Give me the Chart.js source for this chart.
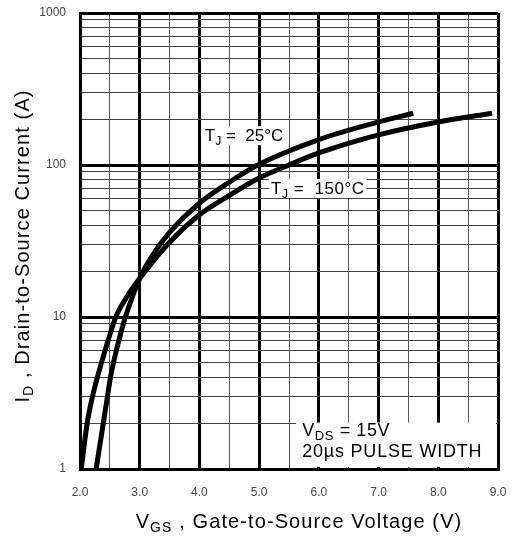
<!DOCTYPE html>
<html>
<head>
<meta charset="utf-8">
<script src="https://cdn.jsdelivr.net/npm/chart.js@4"></script>
<style>
  body { margin: 0; background: #fff; }
  #wrap { width: 513px; height: 537px; }
</style>
</head>
<body>
<div id="wrap"><canvas id="chart" width="513" height="537"></canvas></div>
<script>
// TJ = 25°C curve
const vgs25 = [2.27, 2.39, 2.46, 2.51, 2.56, 2.65, 2.76, 2.86, 3.0, 3.2, 3.5, 4.0, 4.5, 5.0, 6.0, 7.0, 7.58];
const id25 = [1, 2, 3, 4, 5, 7, 10, 13, 18, 25, 36, 56, 77, 101, 147, 192, 219];

// TJ = 150°C curve
const vgs150 = [2.02, 2.12, 2.21, 2.29, 2.36, 2.47, 2.6, 2.78, 2.98, 3.5, 4.0, 4.5, 5.0, 5.5, 6.0, 7.0, 8.0, 8.9];
const id150 = [1, 2, 3, 4, 5, 7, 10, 13.5, 17.5, 31, 47, 63, 82, 100, 120, 158, 192, 219];

// axis ticks
const xTicks = [2.0, 2.5, 3.0, 3.5, 4.0, 4.5, 5.0, 5.5, 6.0, 6.5, 7.0, 7.5, 8.0, 8.5, 9.0];
const yDecades = [1, 10, 100, 1000];
const yMinor = [2, 3, 4, 5, 6, 7, 8, 9];

const yTicks = [];
yDecades.forEach((d, i) => {
  yTicks.push(d);
  if (i < yDecades.length - 1) yMinor.forEach(m => yTicks.push(d * m));
});

const SANS = '"Liberation Sans", Arial, sans-serif';

const toPts = (xs, ys) => xs.map((x, i) => ({ x: x, y: ys[i] }));
const isDecade = v => yDecades.includes(v);

// text with subscripts, parts: [text, isSub]
function richText(ctx, parts, x, y, size, spacing) {
  let cx = x;
  parts.forEach(([t, sub]) => {
    const s = sub ? Math.round(size * 0.72) : size;
    ctx.font = s + 'px ' + SANS;
    ctx.letterSpacing = (spacing || 0) + 'px';
    ctx.fillText(t, cx, sub ? y + size * 0.22 : y);
    cx += ctx.measureText(t).width;
  });
  ctx.letterSpacing = '0px';
  return cx - x;
}
function richWidth(ctx, parts, size, spacing) {
  let w = 0;
  parts.forEach(([t, sub]) => {
    const s = sub ? Math.round(size * 0.72) : size;
    ctx.font = s + 'px ' + SANS;
    ctx.letterSpacing = (spacing || 0) + 'px';
    w += ctx.measureText(t).width;
  });
  ctx.letterSpacing = '0px';
  return w;
}
function boxedLabel(ctx, parts, x, y, size, spacing) {
  const w = richWidth(ctx, parts, size, spacing);
  ctx.fillStyle = '#fff';
  ctx.fillRect(x - 2, y - 9, w + 4, 19);
  ctx.fillStyle = '#000';
  richText(ctx, parts, x, y + 6, size, spacing);
}

const labelsPlugin = {
  id: 'labels',
  afterDraw(chart) {
    const ctx = chart.ctx;
    const xs = chart.scales.x, ys = chart.scales.y;
    const area = chart.chartArea;
    ctx.save();
    ctx.fillStyle = '#000';
    ctx.textBaseline = 'alphabetic';
    ctx.textAlign = 'left';

    // curve labels
    boxedLabel(ctx, [['T', false], ['J', true], [' =  25°C', false]],
      xs.getPixelForValue(4.09), ys.getPixelForValue(157), 17, 0);
    boxedLabel(ctx, [['T', false], ['J', true], [' =  150°C', false]],
      xs.getPixelForValue(5.2), ys.getPixelForValue(70.6), 17, 0.5);

    // test condition box
    const bx = xs.getPixelForValue(5.62), by = ys.getPixelForValue(2.02);
    ctx.fillStyle = '#fff';
    ctx.fillRect(bx, by, area.right - 2 - bx, area.bottom - 2 - by);
    ctx.fillStyle = '#000';
    richText(ctx, [['V', false], ['DS', true], [' = 15V', false]], bx + 6, by + 13, 18, 0.6);
    richText(ctx, [['20µs PULSE WIDTH', false]], bx + 6, by + 34, 18, 0.8);

    // axis titles
    const xt = [['V', false], ['GS', true], [' , Gate-to-Source Voltage (V)', false]];
    let w = richWidth(ctx, xt, 20, 1.1);
    richText(ctx, xt, 299 - w / 2, 528, 20, 1.1);

    const yt = [['I', false], ['D', true], [' , Drain-to-Source Current (A)', false]];
    w = richWidth(ctx, yt, 20, 1.1);
    ctx.translate(29, 246);
    ctx.rotate(-Math.PI / 2);
    richText(ctx, yt, -w / 2, 0, 20, 1.1);
    ctx.restore();
  }
};

const lineStyle = {
  borderColor: '#000',
  borderWidth: 5,
  pointRadius: 0,
  fill: false,
  cubicInterpolationMode: 'monotone',
  borderCapStyle: 'butt'
};

new Chart(document.getElementById('chart'), {
  type: 'line',
  data: {
    datasets: [
      Object.assign({ label: 'TJ = 25°C', data: toPts(vgs25, id25) }, lineStyle),
      Object.assign({ label: 'TJ = 150°C', data: toPts(vgs150, id150) }, lineStyle)
    ]
  },
  options: {
    responsive: false,
    animation: false,
    layout: { padding: { top: 13, right: 15, left: 0, bottom: 0 } },
    plugins: {
      legend: { display: false },
      tooltip: { enabled: false }
    },
    scales: {
      x: {
        type: 'linear',
        min: 2,
        max: 9,
        afterBuildTicks: s => { s.ticks = xTicks.map(v => ({ value: v })); },
        afterFit: s => {
          s.height = 68;
          s.paddingLeft = 0; s.paddingRight = 0;
        },
        grid: {
          drawTicks: false,
          color: c => Number.isInteger(c.tick.value) ? '#000' : '#555',
          lineWidth: c => Number.isInteger(c.tick.value) ? 3 : 1
        },
        border: { color: '#000', width: 3 },
        ticks: {
          padding: 16,
          color: '#444',
          font: { size: 12, family: SANS },
          maxRotation: 0,
          autoSkip: false,
          callback: v => Number.isInteger(v) ? v.toFixed(1) : ''
        }
      },
      y: {
        type: 'logarithmic',
        min: 1,
        max: 1000,
        afterBuildTicks: s => { s.ticks = yTicks.map(v => ({ value: v })); },
        afterFit: s => {
          s.width = 80;
          s.paddingTop = 0; s.paddingBottom = 0;
        },
        grid: {
          drawTicks: false,
          color: c => isDecade(c.tick.value) ? '#000' : '#444',
          lineWidth: c => isDecade(c.tick.value) ? 3 : 1
        },
        border: { color: '#000', width: 3 },
        ticks: {
          padding: 14,
          color: '#444',
          font: { size: 12, family: SANS },
          autoSkip: false,
          callback: v => isDecade(v) ? String(v) : ''
        }
      }
    }
  },
  plugins: [labelsPlugin]
});
</script>
</body>
</html>
